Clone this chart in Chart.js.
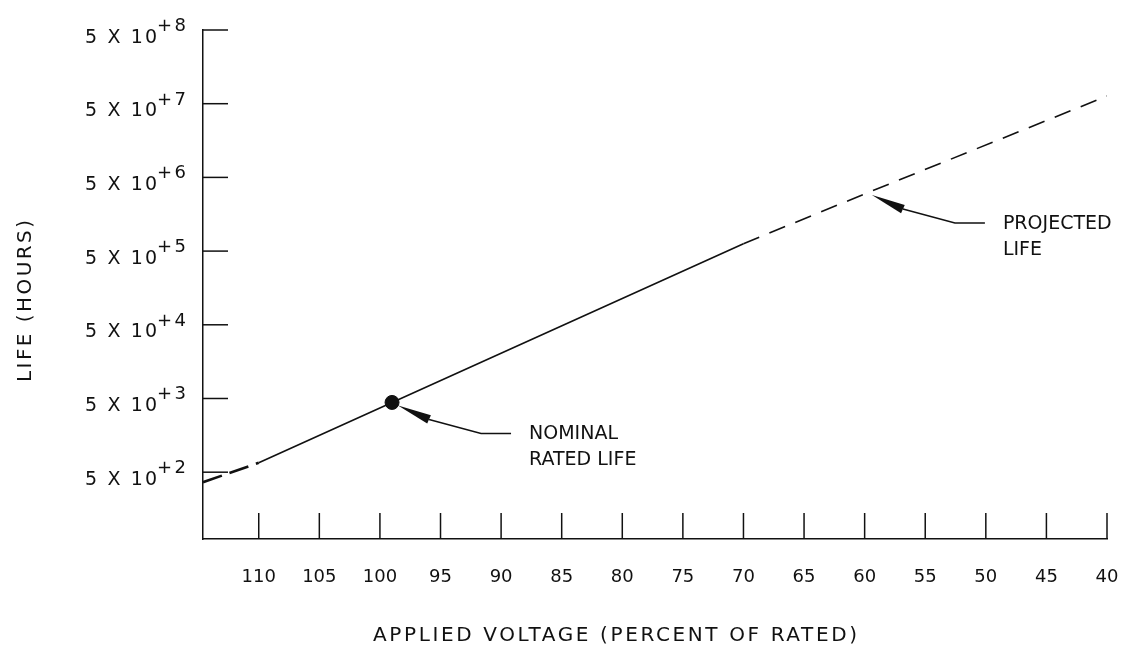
<!DOCTYPE html>
<html><head><meta charset="utf-8">
<script src="https://cdn.jsdelivr.net/npm/chart.js@4.4.1/dist/chart.umd.min.js"></script>
<style>html,body{margin:0;padding:0;background:#fff}</style>
</head><body>
<canvas id="c" width="1126" height="650"></canvas>
<script>
// ---- data ----
const xTickValues = [110, 105, 100, 95, 90, 85, 80, 75, 70, 65, 60, 55, 50, 45, 40];
const yTickValues = [5e2, 5e3, 5e4, 5e5, 5e6, 5e7, 5e8];
const yTickExponents = ['+2', '+3', '+4', '+5', '+6', '+7', '+8'];
const lowVoltageExtrapolation = [{x: 114.6, y: 366}, {x: 110, y: 670}];
const measuredLife = [{x: 110, y: 670}, {x: 99, y: 4420}, {x: 70, y: 6.3e5}];
const projectedLife = [{x: 70, y: 6.3e5}, {x: 60, y: 2.98e6}, {x: 40, y: 6.35e7}];
const nominalPoint = [{x: 99, y: 4420}];
const xRange = {min: 40, max: 114.6};
const yRange = {min: 62, max: 5e8};
const xTitle = 'APPLIED VOLTAGE (PERCENT OF RATED)';
const yTitle = 'LIFE (HOURS)';
const annotations = [
  {lines: ['NOMINAL', 'RATED LIFE'], x: 99, y: 4420, tipDx: 6, tipDy: 3},
  {lines: ['PROJECTED', 'LIFE'], x: 59.4, y: 2.88e6, tipDx: 0, tipDy: 0}
];

const INK = '#111';
const FAM = '"DejaVu Sans", sans-serif';

function spacedText(ctx, text, x, y, font, width) {
  ctx.font = font;
  ctx.letterSpacing = '0px';
  const w0 = ctx.measureText(text).width;
  const s = width ? (width - w0) / Math.max(1, text.length - 1) : 0;
  ctx.letterSpacing = s + 'px';
  ctx.textAlign = 'left';
  ctx.textBaseline = 'alphabetic';
  ctx.fillText(text, x, y);
  ctx.letterSpacing = '0px';
}

const decor = {
  id: 'decor',
  afterDraw(chart) {
    const {ctx, chartArea: a, scales: {x, y}} = chart;
    ctx.save();
    ctx.strokeStyle = INK;
    ctx.fillStyle = INK;
    ctx.lineWidth = 1.5;
    // inward tick marks
    y.ticks.forEach(t => {
      const py = y.getPixelForValue(t.value);
      ctx.beginPath(); ctx.moveTo(a.left, py); ctx.lineTo(a.left + 25, py); ctx.stroke();
    });
    x.ticks.forEach(t => {
      const px = x.getPixelForValue(t.value);
      ctx.beginPath(); ctx.moveTo(px, a.bottom); ctx.lineTo(px, a.bottom - 26); ctx.stroke();
    });
    // y tick labels with superscripts
    yTickValues.forEach((v, i) => {
      const py = y.getPixelForValue(v);
      spacedText(ctx, '5 X 10', a.left - 118, py + 12.5, '19px ' + FAM, 72);
      spacedText(ctx, yTickExponents[i], a.left - 46, py + 1, '18px ' + FAM, 29);
    });
    // axis titles
    spacedText(ctx, xTitle, a.left + 170, a.bottom + 102, '20px ' + FAM, 484);
    ctx.save();
    ctx.translate(a.left - 180, (a.top + a.bottom) / 2 + 16.5);
    ctx.rotate(-Math.PI / 2);
    spacedText(ctx, yTitle, -81, 7.5, '20px ' + FAM, 162);
    ctx.restore();
    // annotations with arrows
    annotations.forEach(an => {
      const tx = x.getPixelForValue(an.x) + an.tipDx;
      const ty = y.getPixelForValue(an.y) + an.tipDy;
      const bx = tx + 31, by = ty + 14;
      const len = Math.hypot(31, 14);
      const ux = 31 / len, uy = 14 / len;
      const hw = 4.5;
      ctx.beginPath();
      ctx.moveTo(tx, ty);
      ctx.lineTo(bx - uy * hw, by + ux * hw);
      ctx.lineTo(bx + uy * hw, by - ux * hw);
      ctx.closePath();
      ctx.fill();
      ctx.lineWidth = 1.5;
      ctx.beginPath();
      ctx.moveTo(bx, by);
      ctx.lineTo(tx + 83, ty + 28);
      ctx.lineTo(tx + 113, ty + 28);
      ctx.stroke();
      an.lines.forEach((ln, k) => {
        spacedText(ctx, ln, tx + 131, ty + 34 + k * 26, '19px ' + FAM, 0);
      });
    });
    ctx.restore();
  }
};

new Chart(document.getElementById('c'), {
  type: 'line',
  data: {
    datasets: [
      {data: nominalPoint, type: 'scatter', order: 0, pointRadius: 7, pointBackgroundColor: INK,
       pointBorderColor: INK, showLine: false},
      {data: lowVoltageExtrapolation, order: 1, borderColor: INK, borderWidth: 2.6, borderDash: [20, 8],
       pointRadius: 0, fill: false},
      {data: measuredLife, order: 1, borderColor: INK, borderWidth: 1.6, pointRadius: 0, fill: false},
      {data: projectedLife, order: 1, borderColor: INK, borderWidth: 1.6, borderDash: [17, 11],
       pointRadius: 0, fill: false}
    ]
  },
  options: {
    responsive: false,
    animation: false,
    devicePixelRatio: 1,
    layout: {padding: {top: 30, right: 0, left: 0, bottom: 0}},
    plugins: {legend: {display: false}, tooltip: {enabled: false}},
    scales: {
      x: {
        type: 'linear', reverse: true, min: xRange.min, max: xRange.max,
        afterBuildTicks: s => { s.ticks = xTickValues.map(v => ({value: v})); },
        afterFit: s => { s.height = 111; s.paddingRight = 19; s.paddingLeft = 0; },
        grid: {display: false, drawTicks: false},
        border: {display: true, color: INK, width: 1.5},
        ticks: {autoSkip: false, maxRotation: 0, padding: 28, color: INK,
                font: {family: FAM, size: 18}, callback: v => String(v)}
      },
      y: {
        type: 'logarithmic', min: yRange.min, max: yRange.max,
        afterBuildTicks: s => { s.ticks = yTickValues.map(v => ({value: v})); },
        afterFit: s => { s.width = 203; },
        grid: {display: false, drawTicks: false},
        border: {display: true, color: INK, width: 1.5},
        ticks: {display: false}
      }
    }
  },
  plugins: [decor]
});
</script>
</body></html>
